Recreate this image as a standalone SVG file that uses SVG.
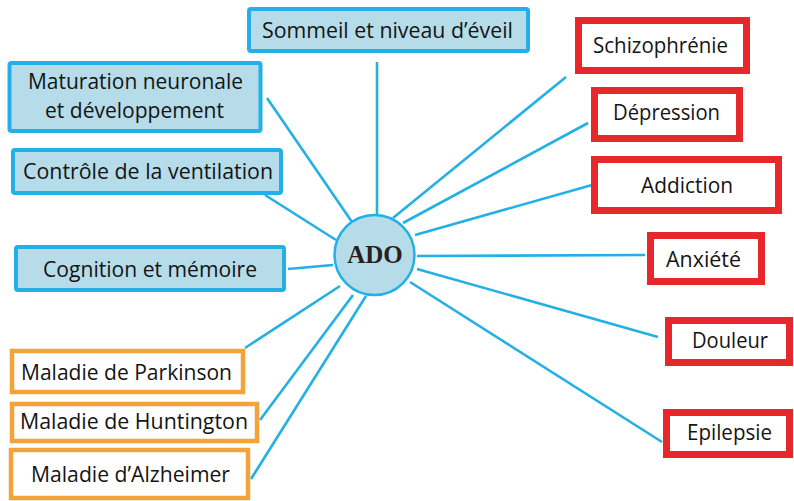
<svg xmlns="http://www.w3.org/2000/svg" width="794" height="501" viewBox="0 0 794 501">
<style>
.bg{fill:#ffffff}
.blue rect{fill:#b5dce8;stroke:#23b0e6;stroke-width:4}
.orange rect{fill:#ffffff;stroke:#f3a33a;stroke-width:4.5}
.red rect{fill:#ffffff;stroke:#e8272d;stroke-width:7}
text{font-family:"Open Sans","Noto Sans",sans-serif;font-size:21px;fill:#141414;text-anchor:middle}
#connectors line{stroke:#23b0e6;stroke-width:2.6;stroke-linecap:butt}
#ado circle{fill:#b5dce8;stroke:#23b0e6;stroke-width:2.5}
#ado text{font-family:"Liberation Serif","Times New Roman",serif;font-weight:bold;font-size:25px;fill:#2a1f1c}
</style>
<rect class="bg" x="0" y="0" width="794" height="501"/>
<g id="connectors">
<line x1="377" y1="62" x2="377" y2="215"/>
<line x1="267" y1="98" x2="352" y2="222"/>
<line x1="265" y1="195" x2="336" y2="240"/>
<line x1="288" y1="269" x2="333" y2="265"/>
<line x1="245" y1="348" x2="340" y2="286"/>
<line x1="260" y1="420" x2="353" y2="295"/>
<line x1="251" y1="479" x2="366" y2="296"/>
<line x1="393" y1="218" x2="566" y2="77"/>
<line x1="403" y1="223" x2="588" y2="123"/>
<line x1="415" y1="235" x2="592" y2="185"/>
<line x1="417" y1="256" x2="645" y2="255"/>
<line x1="417" y1="269" x2="658" y2="337"/>
<line x1="410" y1="282" x2="662" y2="442"/>
</g>
<g id="ado">
<circle cx="374.5" cy="255" r="40"/>
<text x="375" y="263">ADO</text>
</g>
<g id="sommeil" class="blue">
<rect x="249" y="9" width="279" height="42" rx="2"/>
<text x="387.5" y="38" textLength="251" lengthAdjust="spacingAndGlyphs">Sommeil et niveau d’éveil</text>
</g>
<g id="maturation" class="blue">
<rect x="9.5" y="63" width="251" height="68" rx="2"/>
<text x="135.5" y="89" textLength="215" lengthAdjust="spacingAndGlyphs">Maturation neuronale</text>
<text x="134.5" y="118" textLength="179" lengthAdjust="spacingAndGlyphs">et développement</text>
</g>
<g id="controle" class="blue">
<rect x="13" y="150" width="268" height="43" rx="2"/>
<text x="148" y="179" textLength="250" lengthAdjust="spacingAndGlyphs">Contrôle de la ventilation</text>
</g>
<g id="cognition" class="blue">
<rect x="16" y="247" width="268" height="43" rx="2"/>
<text x="150" y="277" textLength="214" lengthAdjust="spacingAndGlyphs">Cognition et mémoire</text>
</g>
<g id="parkinson" class="orange">
<rect x="12" y="351" width="231" height="41"/>
<text x="126.5" y="380" textLength="211" lengthAdjust="spacingAndGlyphs">Maladie de Parkinson</text>
</g>
<g id="huntington" class="orange">
<rect x="12" y="404" width="245" height="37"/>
<text x="134" y="429" textLength="228" lengthAdjust="spacingAndGlyphs">Maladie de Huntington</text>
</g>
<g id="alzheimer" class="orange">
<rect x="11" y="450" width="237" height="48"/>
<text x="130.5" y="482" textLength="199" lengthAdjust="spacingAndGlyphs">Maladie d’Alzheimer</text>
</g>
<g id="schizophrenie" class="red">
<rect x="578.5" y="20.5" width="168" height="50"/>
<text x="660.5" y="53" textLength="135" lengthAdjust="spacingAndGlyphs">Schizophrénie</text>
</g>
<g id="depression" class="red">
<rect x="594.5" y="90.5" width="145" height="48"/>
<text x="666.5" y="120" textLength="107" lengthAdjust="spacingAndGlyphs">Dépression</text>
</g>
<g id="addiction" class="red">
<rect x="594.5" y="159.5" width="184" height="51"/>
<text x="687" y="193" textLength="92" lengthAdjust="spacingAndGlyphs">Addiction</text>
</g>
<g id="anxiete" class="red">
<rect x="650.5" y="235.5" width="111" height="46"/>
<text x="703.5" y="267" textLength="75" lengthAdjust="spacingAndGlyphs">Anxiété</text>
</g>
<g id="douleur" class="red">
<rect x="668.5" y="320.5" width="121" height="42"/>
<text x="730" y="348" textLength="76" lengthAdjust="spacingAndGlyphs">Douleur</text>
</g>
<g id="epilepsie" class="red">
<rect x="666.5" y="412.5" width="123" height="42"/>
<text x="729.5" y="440" textLength="85" lengthAdjust="spacingAndGlyphs">Epilepsie</text>
</g>
</svg>
